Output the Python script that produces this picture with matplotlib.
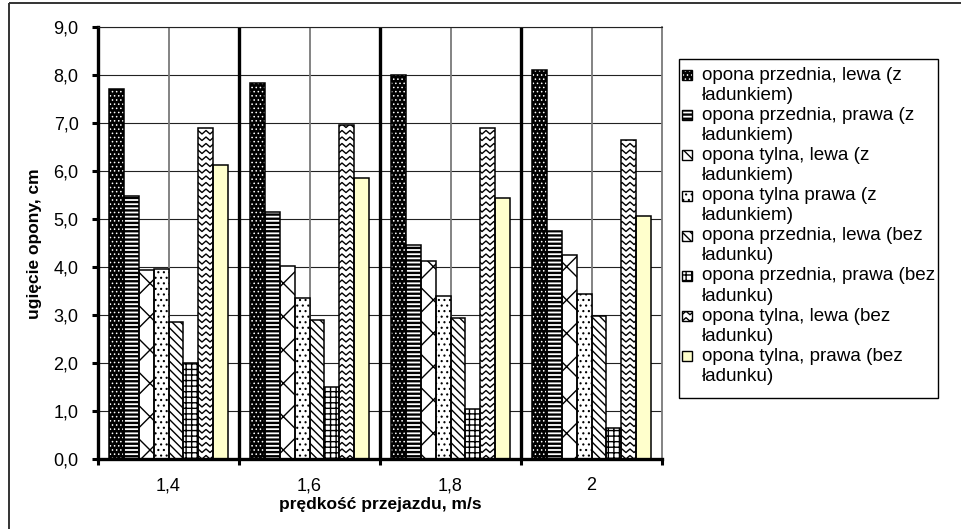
import matplotlib
matplotlib.use("Agg")
import matplotlib.pyplot as plt
import numpy as np
from matplotlib.patches import Rectangle
from matplotlib.collections import LineCollection
from matplotlib import transforms as mtransforms

plt.rcParams['font.family'] = ['Liberation Sans', 'DejaVu Sans']
plt.rcParams['hatch.linewidth'] = 1.0

# ---- data -------------------------------------------------------------
categories = ['1,4', '1,6', '1,8', '2']

front_left_loaded = [7.71, 7.84, 7.99, 8.10]
front_right_loaded = [5.47, 5.14, 4.45, 4.76]
rear_left_loaded = [3.93, 4.03, 4.12, 4.24]
rear_right_loaded = [3.96, 3.36, 3.39, 3.43]
front_left_empty = [2.86, 2.89, 2.93, 2.97]
front_right_empty = [2.00, 1.51, 1.04, 0.64]
rear_left_empty = [6.90, 6.95, 6.89, 6.65]
rear_right_empty = [6.13, 5.85, 5.44, 5.07]

series_labels = [
    ['opona przednia, lewa (z', 'ładunkiem)'],
    ['opona przednia, prawa (z', 'ładunkiem)'],
    ['opona tylna, lewa (z', 'ładunkiem)'],
    ['opona tylna prawa (z', 'ładunkiem)'],
    ['opona przednia, lewa (bez', 'ładunku)'],
    ['opona przednia, prawa (bez', 'ładunku)'],
    ['opona tylna, lewa (bez', 'ładunku)'],
    ['opona tylna, prawa (bez', 'ładunku)'],
]

y_ticks = [0, 1, 2, 3, 4, 5, 6, 7, 8, 9]
y_label = 'ugięcie opony, cm'
x_label = 'prędkość przejazdu, m/s'

series_values = [front_left_loaded, front_right_loaded, rear_left_loaded,
                 rear_right_loaded, front_left_empty, front_right_empty,
                 rear_left_empty, rear_right_empty]

# ---- styles: (face, hatch, hatch colour, hatch width, custom zigzag) ---
styles = [
    ('black', '....', 'white', 0.6, False),
    ('white', '----', 'black', 1.7, False),
    ('white', 'x', 'black', 1.0, False),
    ('white', '...', 'black', 0.8, False),
    ('white', '\\\\\\\\', 'black', 1.0, False),
    ('white', '+++', 'black', 1.0, False),
    ('white', '', 'black', 1.0, True),
    ('#FFFFCC', '', 'black', 1.0, False),
]

W, H = 962, 529
fig = plt.figure(figsize=(W / 100, H / 100), dpi=100)
fig.patch.set_facecolor('white')

ax_l, ax_r, ax_t, ax_b = 98, 662, 27, 459
ax = fig.add_axes([ax_l / W, (H - ax_b) / H, (ax_r - ax_l) / W, (ax_b - ax_t) / H])
ax.set_xlim(-0.5, len(categories) - 0.5)
ax.set_ylim(0, 9)
ax.set_axisbelow(True)


def zigzag_segments(x0, y0, x1, y1, period=8.0, amp=3.5, step=6.5):
    """Rows of chevrons covering a display-space box."""
    segs = []
    xs = np.arange(x0 - period, x1 + period, period / 2)
    y = y0 - step
    while y < y1 + step:
        ys = y + amp * (np.arange(len(xs)) % 2)
        segs.append(np.column_stack([xs, ys]))
        y += step
    return segs


n = len(series_values)
width = 1.0 / (n + 1.5)
x = np.arange(len(categories))
fig.canvas.draw()
axbox = ax.bbox

for i, (vals, st) in enumerate(zip(series_values, styles)):
    face, hatch, hcol, hlw, zig = st
    pos = x + (i - (n - 1) / 2) * width
    with plt.rc_context({'hatch.linewidth': hlw}):
        base = ax.bar(pos, vals, width, color=face, edgecolor=hcol,
                      hatch=hatch if hatch else None, linewidth=0, zorder=2)
        for p in base:
            if hasattr(p, 'set_hatch_linewidth'):
                p.set_hatch_linewidth(hlw)
    ax.bar(pos, vals, width, facecolor='none', edgecolor='black',
           linewidth=1.1, zorder=3)
    if zig:
        for p in base:
            lc = LineCollection(zigzag_segments(axbox.x0, axbox.y0, axbox.x1, axbox.y1),
                                colors='black', linewidths=1.0,
                                transform=mtransforms.IdentityTransform(), zorder=2.5)
            ax.add_collection(lc)
            lc.set_clip_path(p)

# gridlines and category separators
for yv in y_ticks[1:]:
    ax.axhline(yv, color='#222222', lw=0.8, zorder=1)
for xc in x:
    ax.axvline(xc, color='#7a7a7a', lw=1.3, zorder=1)
for xb in x[:-1] + 0.5:
    ax.axvline(xb, color='black', lw=2.4, zorder=1)

# axes frame
ax.spines['left'].set_linewidth(2.4)
ax.spines['bottom'].set_linewidth(2.4)
ax.spines['right'].set_color('#7a7a7a')
ax.spines['right'].set_linewidth(1.3)
ax.spines['top'].set_color('#222222')
ax.spines['top'].set_linewidth(0.8)

ax.set_yticks(y_ticks)
ax.set_yticklabels([f'{v:.1f}'.replace('.', ',') for v in y_ticks], fontsize=13)
ax.tick_params(axis='y', direction='out', length=4, width=2.2, pad=10)

ax.set_xticks(np.arange(-0.5, len(categories), 1.0))
ax.set_xticklabels([])
ax.set_xticks(x, minor=True)
ax.set_xticklabels(categories, minor=True, fontsize=13)
ax.tick_params(axis='x', which='major', direction='out', length=4, width=2.2)
ax.tick_params(axis='x', which='minor', length=0, pad=13)

# overlay in pixel coordinates for frame, axis titles and legend
ov = fig.add_axes([0, 0, 1, 1], zorder=5)
ov.set_xlim(0, W)
ov.set_ylim(H, 0)
ov.axis('off')
ov.patch.set_alpha(0)

ov.add_patch(Rectangle((9.5, 2.5), W + 20, H + 20, facecolor='none',
                       edgecolor='#333333', lw=1.4))

ov.text(35, 244, y_label, rotation=90, ha='center', va='center',
        fontsize=12.5, fontweight='bold')
ov.text(380, 505, x_label, ha='center', va='center',
        fontsize=12.5, fontweight='bold')

# legend
lg_x0, lg_y0, lg_x1, lg_y1 = 679, 59, 938, 398
ov.add_patch(Rectangle((lg_x0, lg_y0), lg_x1 - lg_x0, lg_y1 - lg_y0,
                       facecolor='white', edgecolor='black', lw=1.0))
line_h = 20.1
for i, (lines, st) in enumerate(zip(series_labels, styles)):
    face, hatch, hcol, hlw, zig = st
    yc = 75 + i * 2 * line_h
    with plt.rc_context({'hatch.linewidth': hlw}):
        r = Rectangle((682, yc - 5), 10, 10, facecolor=face, edgecolor=hcol,
                      hatch=hatch if hatch else None, lw=0)
        if hasattr(r, 'set_hatch_linewidth'):
            r.set_hatch_linewidth(hlw)
        ov.add_patch(r)
    if zig:
        ex = ov.transData.transform([(682, yc + 5), (692, yc - 5)])
        lc = LineCollection(zigzag_segments(ex[0, 0], ex[0, 1], ex[1, 0], ex[1, 1]),
                            colors='black', linewidths=1.0,
                            transform=mtransforms.IdentityTransform())
        ov.add_collection(lc)
        lc.set_clip_path(r)
    ov.add_patch(Rectangle((682, yc - 5), 10, 10, facecolor='none',
                           edgecolor='black', lw=1.0))
    for j, t in enumerate(lines):
        ov.text(702, yc + j * line_h, t, ha='left', va='center', fontsize=13.6)

fig.savefig('out.png', dpi=100)
